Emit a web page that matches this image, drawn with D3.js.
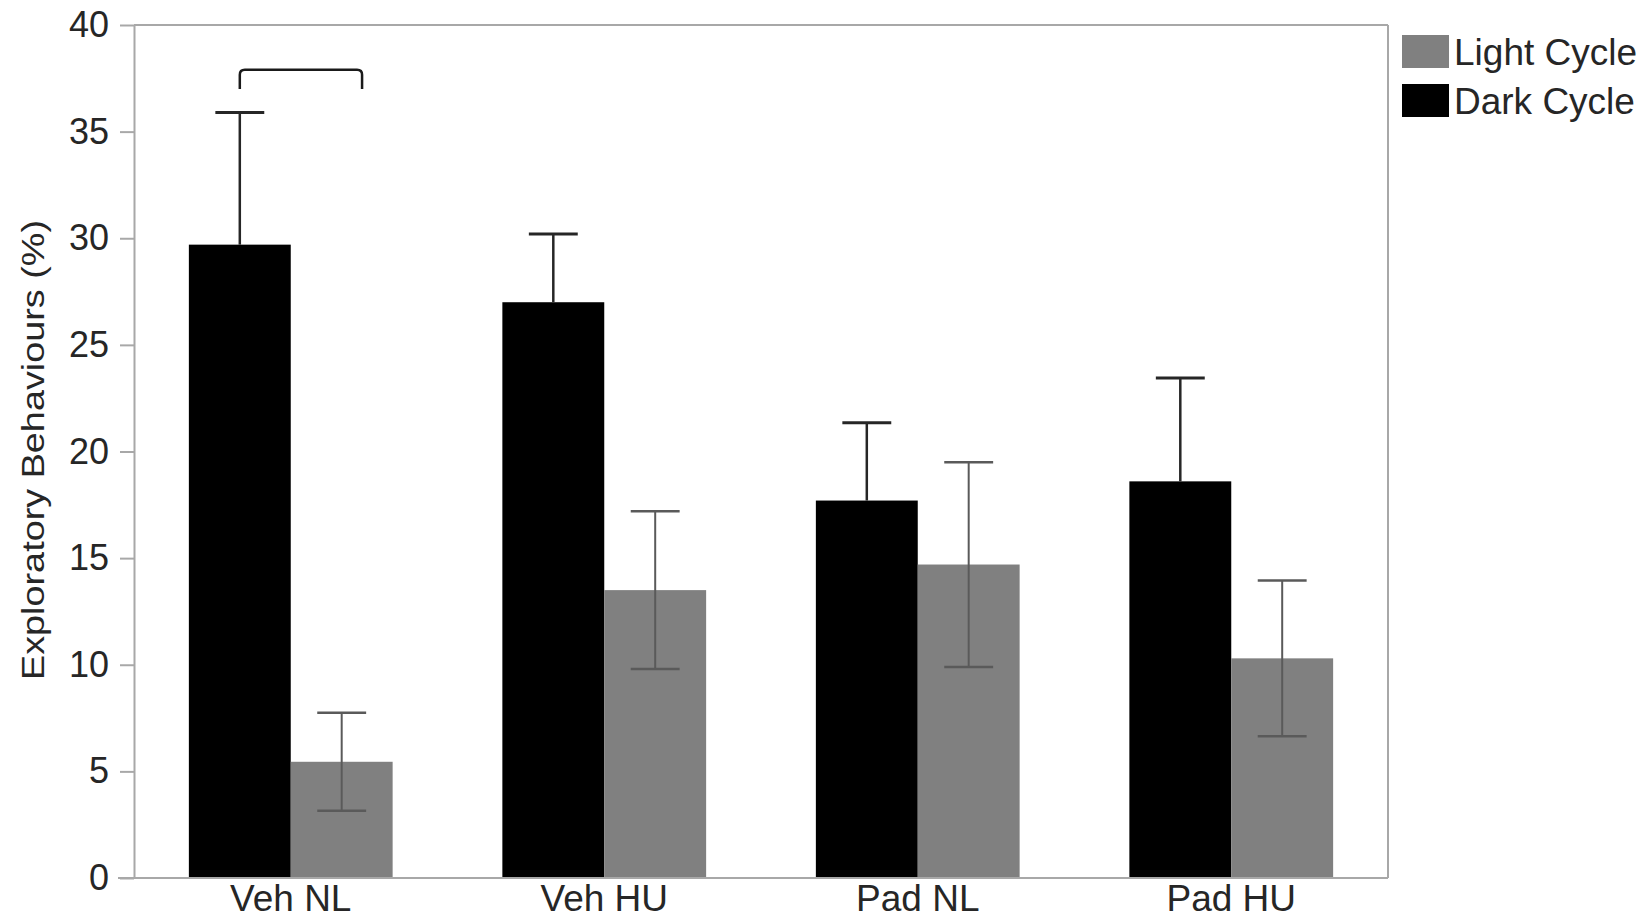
<!DOCTYPE html>
<html>
<head>
<meta charset="utf-8">
<script src="https://cdn.jsdelivr.net/npm/d3@7"></script>
<style>
  html, body { margin: 0; padding: 0; background: #ffffff; }
  svg { display: block; }
  text { font-family: "Liberation Sans", Arial, sans-serif; fill: #262626; }
</style>
</head>
<body>
<svg id="chart" width="1650" height="919"></svg>
<script>
// Group labels along the x axis
const categories = ["Veh NL", "Veh HU", "Pad NL", "Pad HU"];
// Series order within each group (dark bar first, light bar second)
const seriesKeys = ["dark", "light"];
const seriesNames = ["Dark Cycle", "Light Cycle"];
// Mean exploratory behaviours (%) and their error (SEM)
const darkMeans = [29.7, 27.0, 17.7, 18.6];
const darkErrors = [6.2, 3.2, 3.65, 4.85];
const lightMeans = [5.45, 13.5, 14.7, 10.3];
const lightErrors = [2.3, 3.7, 4.8, 3.65];
// Y axis ticks
const yTicks = [0, 5, 10, 15, 20, 25, 30, 35, 40];
// Significance bracket over the Veh NL group (y extent in data units)
const bracketTop = 37.9;
const bracketFoot = 37.0;

const colors = { dark: "#000000", light: "#808080" };
const errColors = { dark: "#262626", light: "#5a5a5a" };

const svg = d3.select("#chart");
const plotLeft = 134, plotRight = 1388, plotTop = 25, plotBottom = 878;

const y = d3.scaleLinear().domain([0, 40]).range([plotBottom, plotTop]);
const x0 = d3.scaleBand().domain(categories).range([plotLeft, plotRight])
  .paddingInner(0.35).paddingOuter(0.175);
const x1 = d3.scaleBand().domain(seriesKeys).range([0, x0.bandwidth()]);

const rows = categories.map((c, i) => ({
  category: c,
  values: [
    { key: "dark", mean: darkMeans[i], err: darkErrors[i] },
    { key: "light", mean: lightMeans[i], err: lightErrors[i] }
  ]
}));

const axisColor = "#a8a8a8";

// Frame: top and right borders
svg.append("line").attr("x1", plotLeft).attr("x2", plotRight).attr("y1", plotTop).attr("y2", plotTop)
  .attr("stroke", axisColor).attr("stroke-width", 2);
svg.append("line").attr("x1", plotRight).attr("x2", plotRight).attr("y1", plotTop).attr("y2", plotBottom)
  .attr("stroke", axisColor).attr("stroke-width", 2);

// Y axis
const yAxis = svg.append("g").attr("transform", `translate(${plotLeft},0)`)
  .call(d3.axisLeft(y).tickValues(yTicks).tickSize(14).tickSizeOuter(0).tickPadding(11));
yAxis.select(".domain").attr("stroke", axisColor).attr("stroke-width", 2);
yAxis.selectAll(".tick line").attr("stroke", axisColor).attr("stroke-width", 2);
yAxis.selectAll(".tick text").style("font-size", "36px").attr("fill", "#262626")
  .style("font-family", "'Liberation Sans', Arial, sans-serif");

// Bars
const groups = svg.append("g").selectAll("g").data(rows).join("g")
  .attr("transform", d => `translate(${x0(d.category)},0)`);

groups.selectAll("rect").data(d => d.values).join("rect")
  .attr("x", d => x1(d.key))
  .attr("width", x1.bandwidth())
  .attr("y", d => y(d.mean))
  .attr("height", d => y(0) - y(d.mean))
  .attr("fill", d => colors[d.key]);

// Error bars: dark bars show the upper whisker only, light bars show both
const capW = x1.bandwidth() * 0.48;
groups.each(function (d) {
  const g = d3.select(this);
  d.values.forEach(v => {
    const cx = x1(v.key) + x1.bandwidth() / 2;
    const hi = y(v.mean + v.err);
    const lo = v.key === "dark" ? y(v.mean) : y(v.mean - v.err);
    const sw = v.key === "dark" ? 2.5 : 2;
    g.append("line").attr("x1", cx).attr("x2", cx).attr("y1", hi).attr("y2", lo)
      .attr("stroke", errColors[v.key]).attr("stroke-width", sw);
    g.append("line").attr("x1", cx - capW / 2).attr("x2", cx + capW / 2).attr("y1", hi).attr("y2", hi)
      .attr("stroke", errColors[v.key]).attr("stroke-width", sw + 0.5);
    if (v.key === "light") {
      g.append("line").attr("x1", cx - capW / 2).attr("x2", cx + capW / 2).attr("y1", lo).attr("y2", lo)
        .attr("stroke", errColors[v.key]).attr("stroke-width", sw + 0.5);
    }
  });
});

// X axis baseline and category labels
svg.append("line").attr("x1", plotLeft - 16).attr("x2", plotRight).attr("y1", plotBottom).attr("y2", plotBottom)
  .attr("stroke", axisColor).attr("stroke-width", 2);
const xAxis = svg.append("g").attr("transform", `translate(0,${plotBottom})`)
  .call(d3.axisBottom(x0).tickSize(0).tickPadding(7));
xAxis.select(".domain").remove();
xAxis.selectAll(".tick text").style("font-size", "37px").attr("fill", "#262626")
  .style("font-family", "'Liberation Sans', Arial, sans-serif");

// Significance bracket between the Veh NL bars
const bx1 = x0(categories[0]) + x1("dark") + x1.bandwidth() / 2;
const bx2 = x0(categories[0]) + x1("light") + x1.bandwidth() * 0.7;
const bt = y(bracketTop), bf = y(bracketFoot), r = 5;
svg.append("path")
  .attr("d", `M${bx1},${bf} L${bx1},${bt + r} Q${bx1},${bt} ${bx1 + r},${bt} L${bx2 - r},${bt} Q${bx2},${bt} ${bx2},${bt + r} L${bx2},${bf}`)
  .attr("fill", "none").attr("stroke", "#1a1a1a").attr("stroke-width", 2.5);

// Y axis title
svg.append("text")
  .attr("transform", `translate(44,450) rotate(-90)`)
  .attr("text-anchor", "middle")
  .attr("textLength", 460).attr("lengthAdjust", "spacingAndGlyphs")
  .style("font-size", "32px")
  .text("Exploratory Behaviours (%)");

// Legend
const legendOrder = ["light", "dark"];
const legendLabels = { light: seriesNames[1], dark: seriesNames[0] };
const legend = svg.append("g").selectAll("g").data(legendOrder).join("g")
  .attr("transform", (d, i) => `translate(1402,${35 + i * 49})`);
legend.append("rect").attr("width", 47).attr("height", 33).attr("fill", d => colors[d]);
legend.append("text").attr("x", 52).attr("y", 30)
  .style("font-size", "37px")
  .text(d => legendLabels[d]);
</script>
</body>
</html>
